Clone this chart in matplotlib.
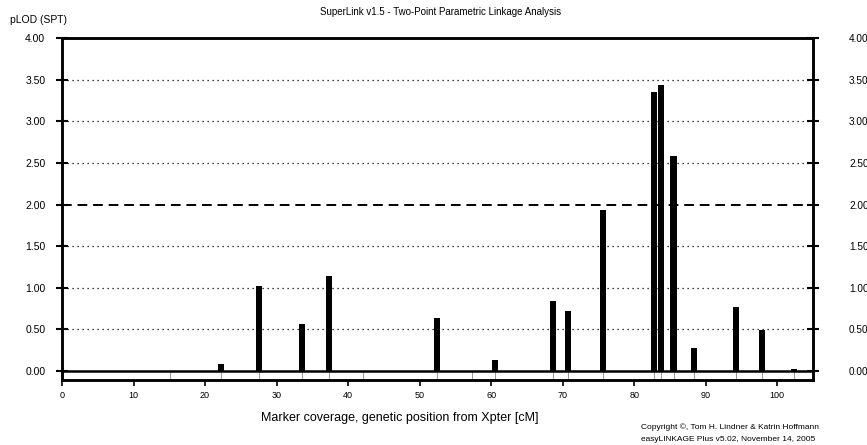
import matplotlib.pyplot as plt
import numpy as np

plt.rcParams['font.family'] = ['Liberation Sans', 'DejaVu Sans']

# marker positions (cM) and two-point pLOD scores
marker_pos = [15.1, 22.2, 27.6, 33.5, 37.3, 42.1, 52.4, 57.3, 60.5, 68.7,
              70.8, 75.7, 82.8, 83.8, 85.5, 88.3, 94.2, 97.9, 102.3]
plod = [0.0, 0.08, 1.02, 0.56, 1.14, 0.0, 0.64, 0.0, 0.13, 0.84,
        0.72, 1.94, 3.35, 3.44, 2.58, 0.28, 0.77, 0.49, 0.02]
yticks = [0.0, 0.5, 1.0, 1.5, 2.0, 2.5, 3.0, 3.5, 4.0]
xticks = [0, 10, 20, 30, 40, 50, 60, 70, 80, 90, 100]
threshold = 2.0

fig = plt.figure(figsize=(8.67, 4.45), dpi=100)
ax = fig.add_axes([0.0715, 0.146, 0.8662, 0.7686])

strip = -0.108
ax.set_xlim(0, 105)
ax.set_ylim(strip, 4.0)

# grid lines
for y in yticks[1:-1]:
    if y == threshold:
        ax.axhline(y, color='black', lw=1.4, ls=(0, (5, 3)), zorder=1)
    else:
        ax.axhline(y, color='black', lw=0.9, ls=(0, (1, 3)), zorder=1)

# marker coverage strip
ax.vlines(marker_pos, strip, 0, color='#999999', lw=0.7, zorder=1)
ax.axhline(0, color='black', lw=1.8, zorder=3)

ax.bar(marker_pos, plod, width=0.85, color='black', zorder=2)

for s in ax.spines.values():
    s.set_linewidth(1.8)

ax.set_yticks(yticks)
ax.set_yticklabels(['%.2f' % v for v in yticks])
ax.set_xticks(xticks)
ax.tick_params(axis='y', direction='inout', length=8, width=1.5, labelsize=7.5, pad=8)
ax.tick_params(axis='x', direction='out', length=4, width=1.2, labelsize=6.5, pad=4)

ax2 = ax.twinx()
ax2.set_ylim(strip, 4.0)
ax2.set_yticks(yticks)
ax2.set_yticklabels(['%.2f' % v for v in yticks])
ax2.tick_params(axis='y', direction='inout', length=8, width=1.5, labelsize=7.2, pad=22)
for s in ax2.spines.values():
    s.set_linewidth(1.8)

fig.text(0.508, 0.972, 'SuperLink v1.5 - Two-Point Parametric Linkage Analysis',
         ha='center', va='center', fontsize=7)
fig.text(0.012, 0.955, 'pLOD (SPT)', ha='left', va='center', fontsize=7.5)
fig.text(0.461, 0.061, 'Marker coverage, genetic position from Xpter [cM]',
         ha='center', va='center', fontsize=9)
fig.text(0.739, 0.039, 'Copyright \u00a9, Tom H. Lindner & Katrin Hoffmann',
         ha='left', va='center', fontsize=6)
fig.text(0.739, 0.013, 'easyLINKAGE Plus v5.02, November 14, 2005',
         ha='left', va='center', fontsize=6)

fig.savefig('out.png', dpi=100)
